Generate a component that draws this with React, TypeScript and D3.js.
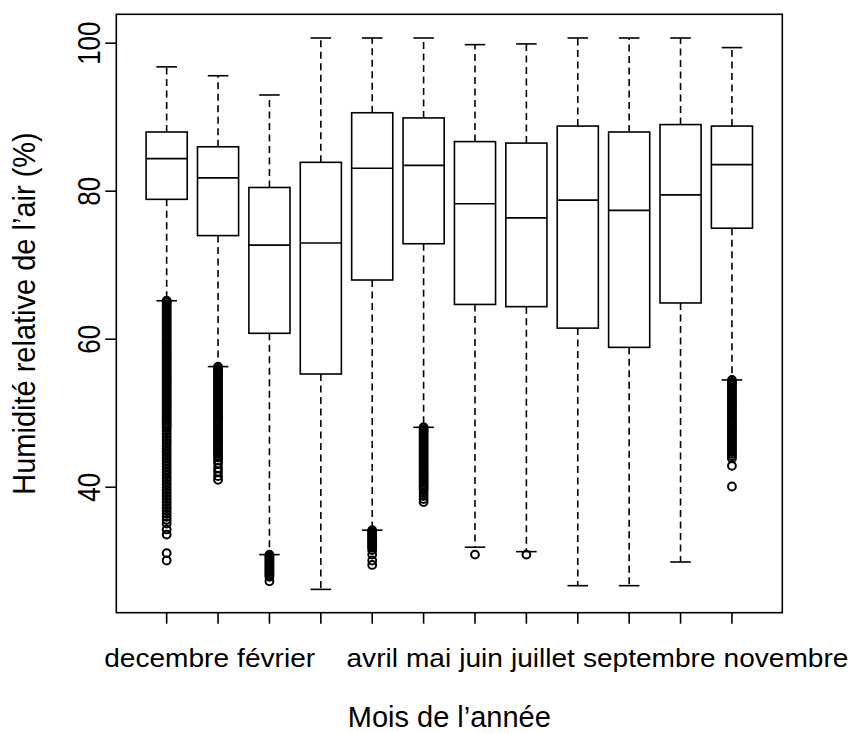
import React from "react";
import * as d3 from "d3";

// ---------- data ----------
const MONTHS = ["decembre", "janvier", "février", "mars", "avril", "mai", "juin", "juillet", "août", "septembre", "octobre", "novembre"];
// labels R managed to print without overlap
const TICK_LABELS = ["decembre", "", "février", "", "avril", "mai", "juin", "juillet", "", "septembre", "", "novembre"];
const WHISKER_LOW = [65.2, 56.3, 30.9, 26.2, 34.2, 48.1, 31.9, 31.3, 26.7, 26.7, 29.9, 54.5];
const Q1 = [78.9, 74.0, 60.8, 55.3, 68.0, 72.9, 64.7, 64.4, 61.5, 58.9, 64.9, 75.0];
const MEDIAN = [84.4, 81.8, 72.7, 73.0, 83.1, 83.5, 78.3, 76.4, 78.8, 77.4, 79.5, 83.6];
const Q3 = [88.0, 86.0, 80.5, 83.9, 90.6, 89.9, 86.7, 86.5, 88.8, 88.0, 89.0, 88.8];
const WHISKER_HIGH = [96.8, 95.6, 93.0, 100.7, 100.7, 100.7, 99.8, 99.9, 100.7, 100.7, 100.7, 99.4];

const OUT_DEC = [
  65.2, 65.0, 64.75, 64.5, 64.25, 64.0, 63.75, 63.5, 63.25, 63.0, 62.75, 62.5, 62.25, 62.0, 61.75, 61.5, 61.25, 61.0,
  60.75, 60.5, 60.25, 60.0, 59.75, 59.5, 59.25, 59.0, 58.75, 58.5, 58.25, 58.0, 57.75, 57.5, 57.25, 57.0, 56.75, 56.5,
  56.25, 56.0, 55.75, 55.5, 55.25, 55.0, 54.75, 54.5, 54.25, 54.0, 53.75, 53.5, 53.25, 53.0, 52.75, 52.5, 52.25, 52.0,
  51.75, 51.5, 51.25, 51.0, 50.75, 50.5, 50.25, 50.0, 49.75, 49.5, 49.25, 49.0, 48.75, 48.5, 48.25, 48.0,
  47.6, 47.2, 46.8, 46.4, 46.0, 45.6, 45.2, 44.8, 44.4, 44.0, 43.6, 43.2, 42.8, 42.4, 42.0, 41.6, 41.2, 40.8, 40.4,
  40.0, 39.6, 39.2, 38.8, 38.4, 38.0, 37.6, 37.2, 36.8, 36.4, 36.0, 35.6, 35.1, 34.3, 33.6, 31.1, 30.1,
];
const OUT_JAN = [
  56.3, 56.0, 55.75, 55.5, 55.25, 55.0, 54.75, 54.5, 54.25, 54.0, 53.75, 53.5, 53.25, 53.0, 52.75, 52.5, 52.25, 52.0,
  51.75, 51.5, 51.25, 51.0, 50.75, 50.5, 50.25, 50.0, 49.75, 49.5, 49.25, 49.0, 48.75, 48.5, 48.25, 48.0, 47.75, 47.5,
  47.25, 47.0, 46.75, 46.5, 46.25, 46.0, 45.75, 45.5, 45.25, 45.0, 44.75, 44.5, 44.25, 44.0, 43.6, 43.2, 42.6, 42.1,
  41.5, 41.0,
];
const OUT_FEV = [30.9, 30.7, 30.5, 30.3, 30.1, 29.9, 29.7, 29.5, 29.3, 29.1, 28.9, 28.7, 28.5, 28.3, 28.1, 27.9, 27.3];
const OUT_MAR: number[] = [];
const OUT_AVR = [34.2, 34.0, 33.8, 33.6, 33.4, 33.2, 33.0, 32.8, 32.6, 32.4, 32.2, 32.0, 31.8, 31.5, 30.9, 30.1, 29.5];
const OUT_MAI = [
  48.1, 47.85, 47.6, 47.35, 47.1, 46.85, 46.6, 46.35, 46.1, 45.85, 45.6, 45.35, 45.1, 44.85, 44.6, 44.35, 44.1, 43.85,
  43.6, 43.35, 43.1, 42.85, 42.6, 42.35, 42.1, 41.85, 41.6, 41.35, 41.1, 40.85, 40.6, 40.35, 40.1, 39.85, 39.6, 39.2,
  38.8, 38.4, 38.0,
];
const OUT_JUN = [30.9];
const OUT_JUL = [30.9];
const OUT_AOU: number[] = [];
const OUT_SEP: number[] = [];
const OUT_OCT: number[] = [];
const OUT_NOV = [
  54.5, 54.25, 54.0, 53.75, 53.5, 53.25, 53.0, 52.75, 52.5, 52.25, 52.0, 51.75, 51.5, 51.25, 51.0, 50.75, 50.5, 50.25,
  50.0, 49.75, 49.5, 49.25, 49.0, 48.75, 48.5, 48.25, 48.0, 47.75, 47.5, 47.25, 47.0, 46.75, 46.5, 46.25, 46.0, 45.75,
  45.5, 45.25, 45.0, 44.75, 44.5, 44.2, 43.9, 42.9, 40.1,
];
const OUTLIERS = [OUT_DEC, OUT_JAN, OUT_FEV, OUT_MAR, OUT_AVR, OUT_MAI, OUT_JUN, OUT_JUL, OUT_AOU, OUT_SEP, OUT_OCT, OUT_NOV];

const Y_TICKS = [40, 60, 80, 100];
const Y_LIMITS = [23.05, 103.9];
const Y_TITLE = "Humidité relative de l’air (%)";
const X_TITLE = "Mois de l’année";

// ---------- layout ----------
const W = 858;
const H = 733;
const LEFT = 116.3;
const RIGHT = 782.3;
const TOP = 14.3;
const BOTTOM = 612.7;
const FONT = "'Liberation Sans', Arial, sans-serif";
const TICK_LEN = 11;
const LW = 1.6;

export default function App() {
  const n = MONTHS.length;
  const pad = 0.04 * n;
  const x = d3.scaleLinear().domain([0.5 - pad, n + 0.5 + pad]).range([LEFT, RIGHT]);
  const y = d3.scaleLinear().domain(Y_LIMITS).range([BOTTOM, TOP]);
  const unit = x(1) - x(0);
  const halfBox = 0.4 * unit;
  const halfStaple = 0.2 * unit;

  // x label layout: centred on tick, pushed right to avoid overlaps
  const labelSize = 26;
  const labelStretch = 1.08;
  const canvas = typeof document !== "undefined" ? document.createElement("canvas") : null;
  const ctx = canvas ? canvas.getContext("2d") : null;
  if (ctx) ctx.font = `${labelSize}px 'Liberation Sans', Arial, sans-serif`;
  const measure = (s: string) => (ctx ? ctx.measureText(s).width : s.length * labelSize * 0.55) * labelStretch;
  const gap = 8;
  let lastEnd = -Infinity;
  const labels: { text: string; cx: number }[] = [];
  TICK_LABELS.forEach((t, i) => {
    if (!t) return;
    const w = measure(t);
    let start = x(i + 1) - w / 2;
    if (start < lastEnd + gap) start = lastEnd + gap;
    lastEnd = start + w;
    labels.push({ text: t, cx: start + w / 2 });
  });

  const midY = (TOP + BOTTOM) / 2;
  const midX = (LEFT + RIGHT) / 2;

  return (
    <svg width={W} height={H} style={{ position: "absolute", left: 0, top: 0, background: "#fff" }} fontFamily={FONT}>
      <rect x={0} y={0} width={W} height={H} fill="#fff" />
      {MONTHS.map((m, i) => {
        const cx = x(i + 1);
        return (
          <g key={m}>
            {/* whiskers */}
            <line x1={cx} x2={cx} y1={y(Q3[i])} y2={y(WHISKER_HIGH[i])} stroke="#000" strokeWidth={LW} strokeDasharray="7 4.5" />
            <line x1={cx} x2={cx} y1={y(Q1[i])} y2={y(WHISKER_LOW[i])} stroke="#000" strokeWidth={LW} strokeDasharray="7 4.5" />
            {/* staples */}
            <line x1={cx - halfStaple} x2={cx + halfStaple} y1={y(WHISKER_HIGH[i])} y2={y(WHISKER_HIGH[i])} stroke="#000" strokeWidth={LW} />
            <line x1={cx - halfStaple} x2={cx + halfStaple} y1={y(WHISKER_LOW[i])} y2={y(WHISKER_LOW[i])} stroke="#000" strokeWidth={LW} />
            {/* box */}
            <rect x={cx - halfBox} y={y(Q3[i])} width={2 * halfBox} height={y(Q1[i]) - y(Q3[i])} fill="#fff" stroke="#000" strokeWidth={LW} />
            <line x1={cx - halfBox} x2={cx + halfBox} y1={y(MEDIAN[i])} y2={y(MEDIAN[i])} stroke="#000" strokeWidth={1.7} />
            {/* outliers */}
            {OUTLIERS[i].map((v, k) => (
              <circle key={k} cx={cx} cy={y(v)} r={3.9} fill="none" stroke="#000" strokeWidth={2} />
            ))}
          </g>
        );
      })}

      {/* frame */}
      <rect x={LEFT} y={TOP} width={RIGHT - LEFT} height={BOTTOM - TOP} fill="none" stroke="#000" strokeWidth={LW} />

      {/* x axis ticks */}
      {MONTHS.map((m, i) => (
        <line key={"xt" + m} x1={x(i + 1)} x2={x(i + 1)} y1={BOTTOM} y2={BOTTOM + TICK_LEN} stroke="#000" strokeWidth={LW} />
      ))}
      {labels.map((l) => (
        <text key={"xl" + l.text} transform={`translate(${l.cx},666.7) scale(${labelStretch},1)`} textAnchor="middle" fontSize={labelSize} fill="#000">
          {l.text}
        </text>
      ))}

      {/* y axis */}
      {Y_TICKS.map((t) => (
        <g key={"yt" + t}>
          <line x1={LEFT - TICK_LEN} x2={LEFT} y1={y(t)} y2={y(t)} stroke="#000" strokeWidth={LW} />
          <text transform={`translate(100,${y(t)}) scale(1.2,1) rotate(-90)`} textAnchor="middle" fontSize={26} fill="#000">
            {t}
          </text>
        </g>
      ))}

      {/* titles */}
      <text transform={`translate(35,${midY}) scale(1.06,1) rotate(-90)`} textAnchor="middle" fontSize={29} fill="#000">
        {Y_TITLE}
      </text>
      <text x={midX} y={727.3} textAnchor="middle" fontSize={29} fill="#000">
        {X_TITLE}
      </text>
    </svg>
  );
}
